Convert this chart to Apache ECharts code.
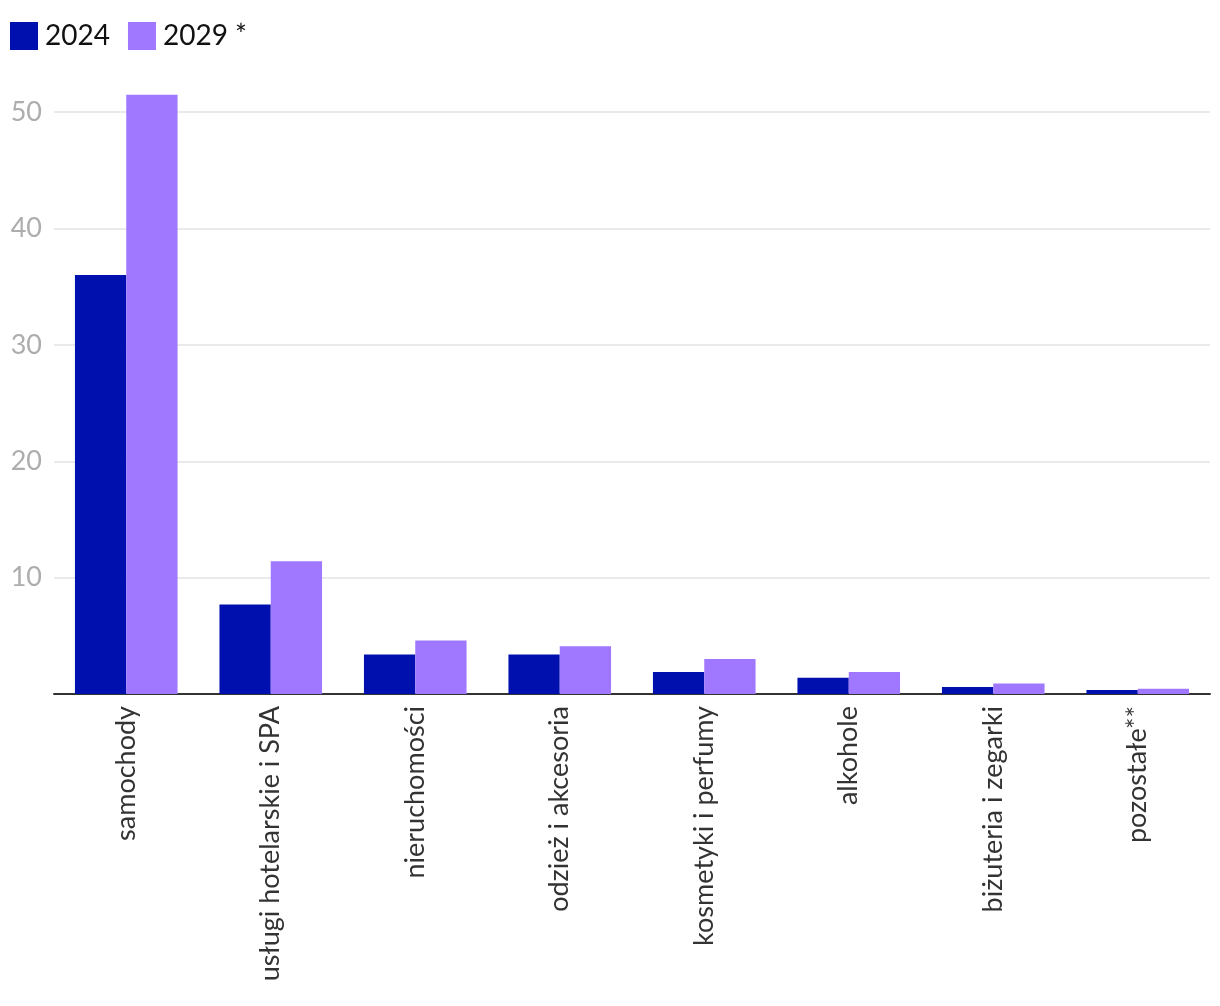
<!DOCTYPE html>
<html><head><meta charset="utf-8">
<script src="https://cdn.jsdelivr.net/npm/echarts@6/dist/echarts.min.js"></script>
<style>html,body{margin:0;padding:0;background:#fff}#c{width:1220px;height:1006px}</style>
</head><body><div id="c"></div>
<script>
const categories = ["samochody","usługi hotelarskie i SPA","nieruchomości","odzież i akcesoria","kosmetyki i perfumy","alkohole","biżuteria i zegarki","pozostałe**"];
const seriesNames = ["2024","2029 *"];
const values2024 = [36, 7.7, 3.4, 3.4, 1.9, 1.4, 0.6, 0.35];
const values2029 = [51.5, 11.4, 4.6, 4.1, 3.0, 1.9, 0.9, 0.45];
const chart = echarts.init(document.getElementById('c'));
const font = 'Lato, "Open Sans", sans-serif';
chart.setOption({
  animation: false,
  textStyle: {fontFamily: font},
  legend: {
    left: 5, top: 17, itemWidth: 28, itemHeight: 28, itemGap: 18, icon: 'rect',
    textStyle: {fontSize: 28, color: '#111', fontFamily: font, padding: [0,0,0,2]},
    data: seriesNames
  },
  grid: {left: 54, right: 10, top: 54, bottom: 312, containLabel: false},
  xAxis: {
    type: 'category', data: categories,
    axisLine: {lineStyle: {color: '#333', width: 2}},
    axisTick: {show: false},
    axisLabel: {rotate: 90, fontSize: 27, color: '#333', margin: 12, fontFamily: font, interval: 0}
  },
  yAxis: {
    type: 'value', min: 0, max: 55, interval: 10,
    axisLine: {show: false}, axisTick: {show: false},
    axisLabel: {fontSize: 27, color: '#adadad', margin: 12, fontFamily: font, showMaxLabel: false, showMinLabel: false},
    splitLine: {lineStyle: {color: '#e3e3e3', width: 1.5}, showMaxLine: false}
  },
  series: [
    {name: seriesNames[0], type: 'bar', data: values2024, itemStyle: {color: '#0010AF'}, barGap: '0%', barCategoryGap: '29%'},
    {name: seriesNames[1], type: 'bar', data: values2029, itemStyle: {color: '#A078FF'}, barGap: '0%', barCategoryGap: '29%'}
  ]
});
</script></body></html>
